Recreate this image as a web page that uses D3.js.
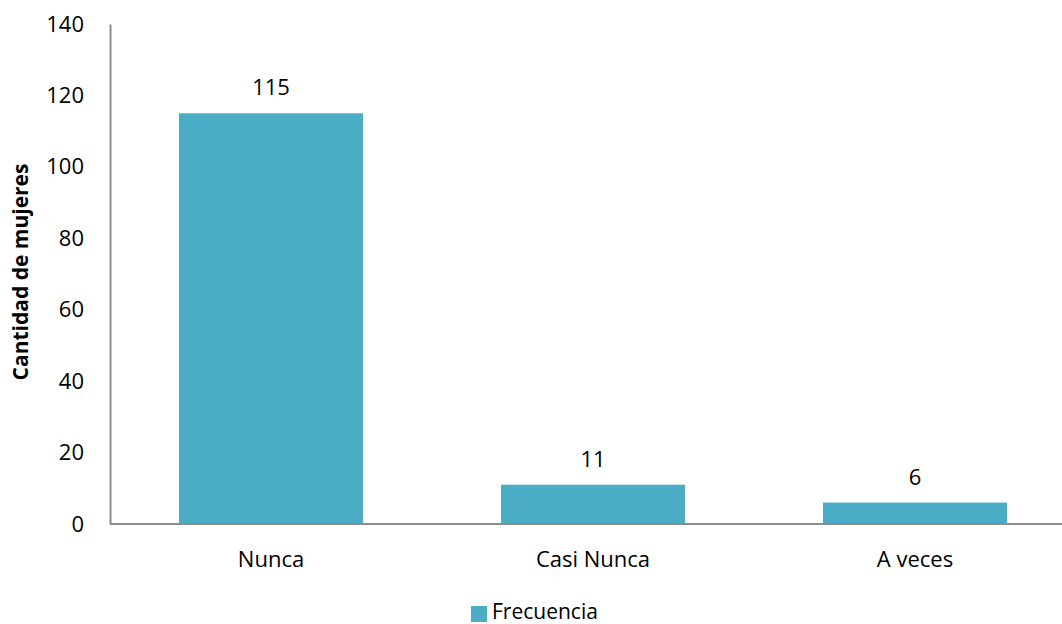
<!DOCTYPE html>
<html>
<head>
<meta charset="utf-8">
<script src="https://cdn.jsdelivr.net/npm/d3@7"></script>
<style>
  html, body { margin: 0; padding: 0; background: #fff; }
  svg { display: block; font-family: "Open Sans", "Liberation Sans", sans-serif; }
</style>
</head>
<body>
<svg id="chart" width="1062" height="624"></svg>
<script>
// Frecuencia por categoría
const categories = ["Nunca", "Casi Nunca", "A veces"];
const values = [115, 11, 6];
const yTicks = [0, 20, 40, 60, 80, 100, 120, 140];
const seriesName = "Frecuencia";
const yTitle = "Cantidad de mujeres";

const barColor = "#4BACC6";
const axisColor = "#8c8c8c";

const svg = d3.select("#chart");

const x = d3.scaleBand()
  .domain(categories)
  .range([110, 1076])
  .paddingInner(0.4286)
  .paddingOuter(0.2143);

const y = d3.scaleLinear()
  .domain([0, 140])
  .range([524, 24]);

// Bars
svg.append("g")
  .selectAll("rect")
  .data(values)
  .join("rect")
  .attr("x", (d, i) => x(categories[i]))
  .attr("y", d => y(d))
  .attr("width", x.bandwidth())
  .attr("height", d => y(0) - y(d))
  .attr("fill", barColor);

// Value labels
svg.append("g")
  .selectAll("text")
  .data(values)
  .join("text")
  .attr("x", (d, i) => x(categories[i]) + x.bandwidth() / 2)
  .attr("y", d => y(d) - 18)
  .attr("text-anchor", "middle")
  .attr("font-size", 22)
  .attr("fill", "#000")
  .text(d => d);

// Y axis
const yAxis = svg.append("g")
  .attr("transform", "translate(110,0)")
  .call(d3.axisLeft(y).tickValues(yTicks).tickSize(0).tickPadding(26));
yAxis.select(".domain").attr("stroke", axisColor).attr("stroke-width", 2);
yAxis.selectAll("text").attr("font-size", 22).attr("fill", "#000")
  .attr("font-family", "'Open Sans', sans-serif");

// X axis
const xAxis = svg.append("g")
  .attr("transform", "translate(0,524)")
  .call(d3.axisBottom(x).tickSize(0).tickPadding(27));
xAxis.select(".domain").remove();
svg.append("line")
  .attr("x1", 110).attr("x2", 1062)
  .attr("y1", y(0)).attr("y2", y(0))
  .attr("stroke", axisColor).attr("stroke-width", 2);
xAxis.selectAll("text").attr("font-size", 22).attr("fill", "#000")
  .attr("font-family", "'Open Sans', sans-serif");

// Y axis title
svg.append("text")
  .attr("transform", "translate(28,272) rotate(-90)")
  .attr("text-anchor", "middle")
  .attr("font-size", 21)
  .attr("font-weight", "bold")
  .attr("fill", "#000")
  .text(yTitle);

// Legend
const legend = svg.append("g").attr("transform", "translate(471,606)");
legend.append("rect")
  .attr("width", 16).attr("height", 16)
  .attr("fill", barColor);
legend.append("text")
  .attr("x", 21).attr("y", 13)
  .attr("font-size", 21)
  .attr("fill", "#000")
  .text(seriesName);
</script>
</body>
</html>
